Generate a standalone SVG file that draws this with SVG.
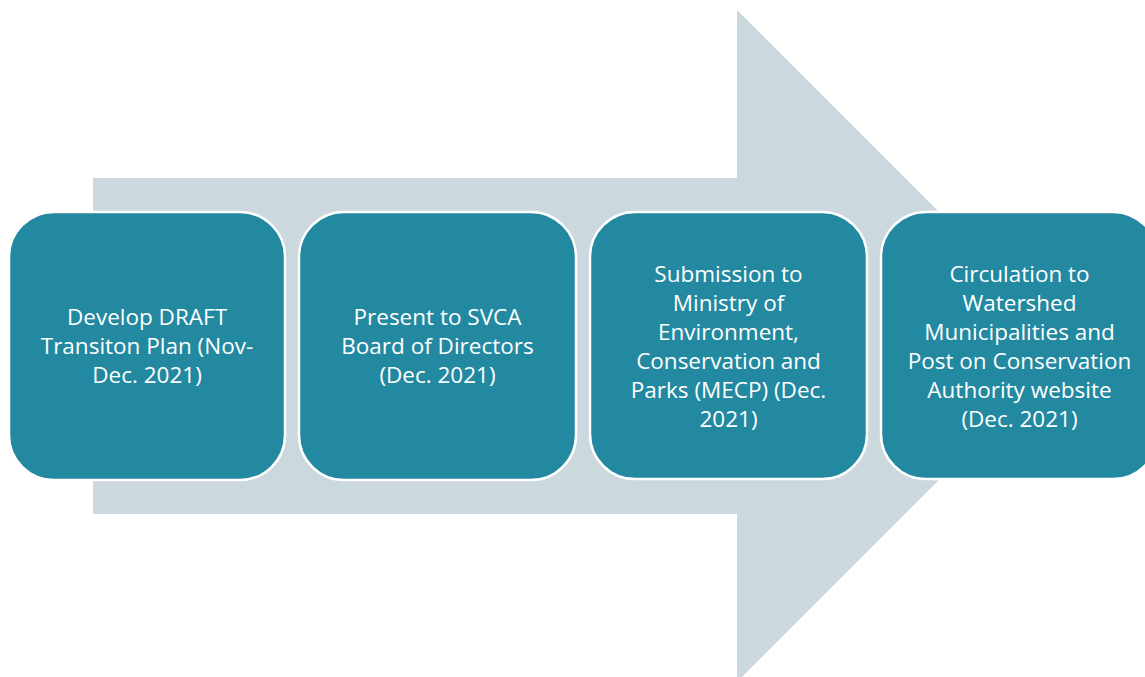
<svg xmlns="http://www.w3.org/2000/svg" width="1145" height="677" viewBox="0 0 1145 677">
<style>
.box{fill:#2389A0;stroke:#FFFFFF;stroke-width:2.5}
.lbl{font-family:"Open Sans","Liberation Sans",sans-serif;font-size:22.5px;fill:#FFFFFF;text-anchor:middle}
</style>
<rect width="1145" height="677" fill="#FFFFFF"/>
<g id="arrow">
<polygon points="93,178 737,178 737,10 1073,346 737,682 737,514 93,514" fill="#CBD9DF"/>
</g>
<g id="connectors"></g>
<g id="node1">
<rect class="box" x="9" y="212" width="276" height="268" rx="45" ry="45"/>
<text class="lbl"><tspan x="147" y="325">Develop DRAFT</tspan><tspan x="147" y="354">Transiton Plan (Nov-</tspan><tspan x="147" y="383">Dec. 2021)</tspan></text>
</g>
<g id="node2">
<rect class="box" x="299" y="212" width="277" height="268" rx="45" ry="45"/>
<text class="lbl"><tspan x="437.5" y="325">Present to SVCA</tspan><tspan x="437.5" y="354">Board of Directors</tspan><tspan x="437.5" y="383">(Dec. 2021)</tspan></text>
</g>
<g id="node3">
<rect class="box" x="590" y="212" width="277" height="267" rx="45" ry="45"/>
<text class="lbl"><tspan x="728.5" y="282">Submission to</tspan><tspan x="728.5" y="311">Ministry of</tspan><tspan x="728.5" y="340">Environment,</tspan><tspan x="728.5" y="369">Conservation and</tspan><tspan x="728.5" y="398">Parks (MECP) (Dec.</tspan><tspan x="728.5" y="427">2021)</tspan></text>
</g>
<g id="node4">
<rect class="box" x="881" y="212" width="277" height="267" rx="45" ry="45"/>
<text class="lbl"><tspan x="1019.5" y="282">Circulation to</tspan><tspan x="1019.5" y="311">Watershed</tspan><tspan x="1019.5" y="340">Municipalities and</tspan><tspan x="1019.5" y="369">Post on Conservation</tspan><tspan x="1019.5" y="398">Authority website</tspan><tspan x="1019.5" y="427">(Dec. 2021)</tspan></text>
</g>
</svg>
